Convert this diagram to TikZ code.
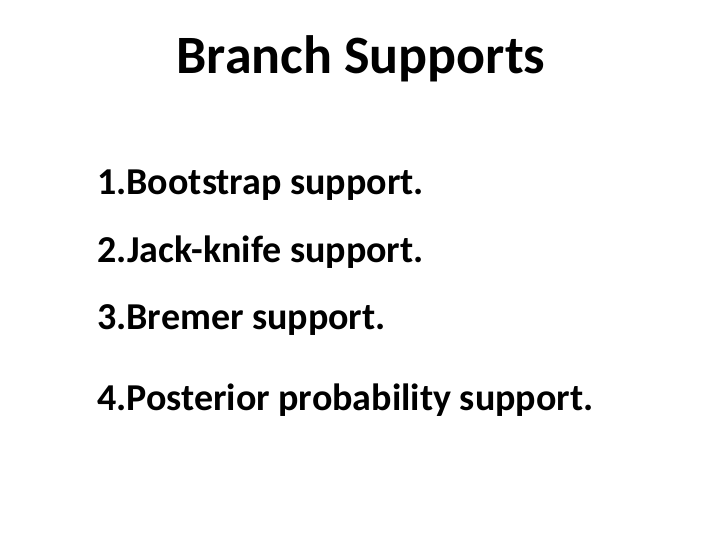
\documentclass[tikz,border=0pt]{standalone}
\usepackage{fontspec}
\setmainfont{Carlito}
\usetikzlibrary{positioning}
\tikzset{
  titletext/.style={font=\bfseries\fontsize{54}{64}\selectfont, anchor=base},
  itemtext/.style={font=\bfseries\fontsize{38}{46}\selectfont, anchor=base west, inner sep=0pt},
}
\begin{document}
\begin{tikzpicture}[x=1pt,y=-1pt]
\useasboundingbox[fill=white] (0,0) rectangle (720,540);

\node[titletext] (title) at (361,74) {Branch Supports};

\node[itemtext] (i1) at (97,195) {1.Bootstrap support.};
\node[itemtext] (i2) at (97,262) {2.Jack-knife support.};
\node[itemtext] (i3) at (97,329) {3.Bremer support.};
\node[itemtext] (i4) at (97,410) {4.Posterior probability support.};

\end{tikzpicture}
\end{document}
